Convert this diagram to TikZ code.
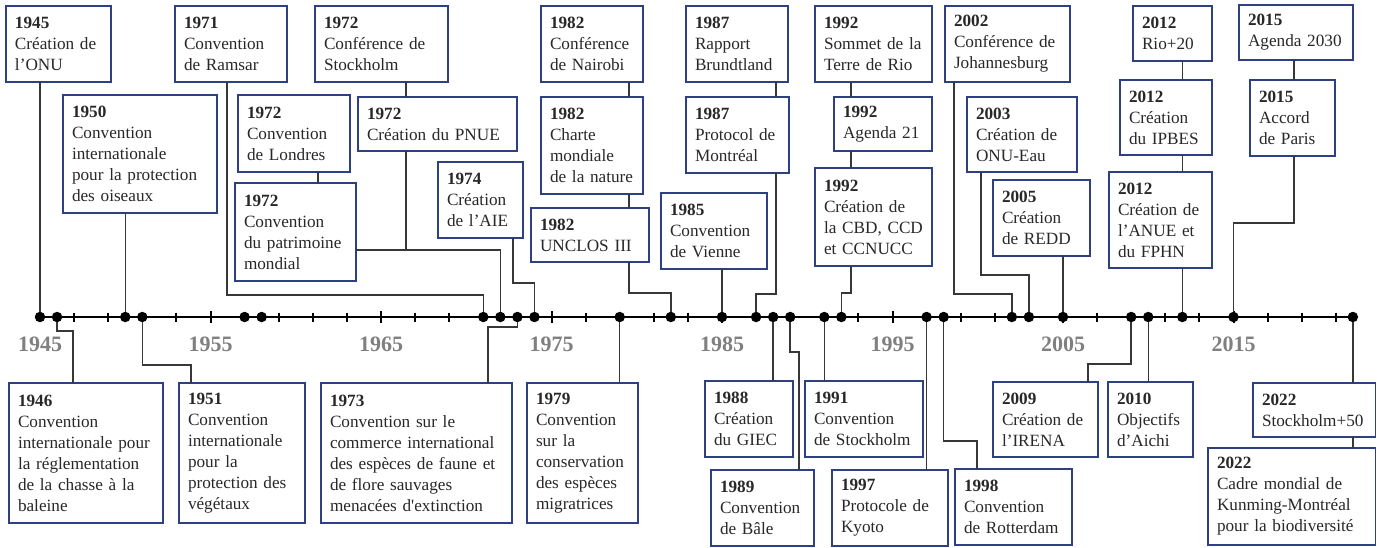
\documentclass[tikz,border=0pt]{standalone}
\usepackage{fontspec}
\setmainfont{Liberation Serif}
\definecolor{boxblue}{RGB}{46,64,130}
\definecolor{conngray}{RGB}{55,55,55}
\definecolor{lblgray}{RGB}{128,128,128}
\definecolor{txtgray}{RGB}{40,40,40}
\tikzset{
  evbox/.style={draw=boxblue, line width=1.3pt, fill=white, inner xsep=9pt, inner ysep=0pt,
    outer sep=0pt, align=left, font=\fontsize{17.2}{21}\selectfont, text=txtgray},
  conn/.style={draw=conngray, line width=1.5pt},
  tdot/.style={circle, fill=black, inner sep=0pt, minimum size=10.5pt, outer sep=0pt},
  axisline/.style={line width=2.8pt, black},
  smalltick/.style={line width=2pt, black},
  yearlbl/.style={text=lblgray, font=\fontsize{22}{26}\selectfont\bfseries, inner sep=0pt},
}
\newcommand\evbox[6]{%
  \pgfmathsetmacro\bw{#4-#2}\pgfmathsetmacro\bh{#5-#3}\pgfmathsetmacro\tw{#4-#2-18}%
  \node[evbox, anchor=north west, minimum width=\bw pt, minimum height=\bh pt, text width=\tw pt] (#1) at (#2,#3) {#6};}
\begin{document}
\begin{tikzpicture}[x=1pt,y=-1pt]
\useasboundingbox (0,0) rectangle (1377,547);
% axis
\coordinate (axL) at (37,317);
\coordinate (axR) at (1356,317);
\draw[axisline] (axL) -- (axR);
\foreach \y in {1947,1949,...,2021} \draw[smalltick] ({40+17.05*(\y-1945)},312.5) -- ++(0,9);
\foreach \y in {1955,1965,...,2015} \draw[smalltick] ({40+17.05*(\y-1945)},311) -- ++(0,12);
\foreach \y in {1945,1955,...,2015} \node[yearlbl] (yl\y) at ({40+17.05*(\y-1945)},344) {\y};
% dots
\foreach \y in {1945,1946,1950,1951,1957,1958,1971,1972,1973,1974,1979,1982,1985,1987,1988,1989,1991,1992,1997,1998,2002,2003,2005,2009,2010,2012,2015,2022}
  \node[tdot] (d\y) at ({40+17.05*(\y-1945)},317) {};
% top boxes
\evbox{b1945}{6}{6}{111}{82}{\textbf{1945}\\Création de\\l’ONU}
\evbox{b1950}{63}{95}{217}{213}{\textbf{1950}\\Convention\\internationale\\pour la protection\\des oiseaux}
\evbox{b1971}{175}{6}{287}{82}{\textbf{1971}\\Convention\\de Ramsar}
\evbox{b1972L}{238}{95}{350}{172}{\textbf{1972}\\Convention\\de Londres}
\evbox{b1972P}{235}{183}{356}{281}{\textbf{1972}\\Convention\\du patrimoine\\mondial}
\evbox{b1972S}{315}{6}{448}{82}{\textbf{1972}\\Conférence de\\Stockholm}
\evbox{b1972U}{358}{97}{517}{151}{\textbf{1972}\\Création du PNUE}
\evbox{b1974}{438}{162}{523}{238}{\textbf{1974}\\Création\\de l’AIE}
\evbox{b1982N}{541}{6}{643}{82}{\textbf{1982}\\Conférence\\de Nairobi}
\evbox{b1982C}{541}{97}{643}{194}{\textbf{1982}\\Charte\\mondiale\\de la nature}
\evbox{b1982U}{531}{208}{649}{262}{\textbf{1982}\\UNCLOS III}
\evbox{b1985}{661}{193}{767}{269}{\textbf{1985}\\Convention\\de Vienne}
\evbox{b1987B}{686}{6}{788}{82}{\textbf{1987}\\Rapport\\Brundtland}
\evbox{b1987M}{686}{97}{789}{173}{\textbf{1987}\\Protocol de\\Montréal}
\evbox{b1992R}{815}{6}{932}{82}{\textbf{1992}\\Sommet de la\\Terre de Rio}
\evbox{b1992A}{834}{97}{932}{151}{\textbf{1992}\\Agenda 21}
\evbox{b1992C}{815}{168}{932}{266}{\textbf{1992}\\Création de\\la CBD, CCD\\et CCNUCC}
\evbox{b2002}{945}{6}{1070}{82}{\textbf{2002}\\Conférence de\\Johannesburg}
\evbox{b2003}{967}{97}{1077}{172}{\textbf{2003}\\Création de\\ONU-Eau}
\evbox{b2005}{993}{180}{1090}{256}{\textbf{2005}\\Création\\de REDD}
\evbox{b2012R}{1133}{6}{1212}{61}{\textbf{2012}\\Rio+20}
\evbox{b2012I}{1120}{80}{1212}{155}{\textbf{2012}\\Création\\du IPBES}
\evbox{b2012A}{1109}{172}{1212}{268}{\textbf{2012}\\Création de\\l’ANUE et\\du FPHN}
\evbox{b2015A}{1239}{5}{1353}{60}{\textbf{2015}\\Agenda 2030}
\evbox{b2015P}{1250}{80}{1335}{156}{\textbf{2015}\\Accord\\de Paris}
% bottom boxes
\evbox{b1946}{9}{383}{163}{523}{\textbf{1946}\\Convention\\internationale pour\\la réglementation\\de la chasse à la\\baleine}
\evbox{b1951}{179}{383}{305}{523}{\textbf{1951}\\Convention\\internationale\\pour la\\protection des\\végétaux}
\evbox{b1973}{321}{383}{512}{523}{\textbf{1973}\\Convention sur le\\commerce international\\des espèces de faune et\\de flore sauvages\\menacées d\textquotesingle extinction}
\evbox{b1979}{527}{383}{638}{523}{\textbf{1979}\\Convention\\sur la\\conservation\\des espèces\\migratrices}
\evbox{b1988}{705}{381}{793}{457}{\textbf{1988}\\Création\\du GIEC}
\evbox{b1989}{711}{470}{814}{546}{\textbf{1989}\\Convention\\de Bâle}
\evbox{b1991}{805}{381}{923}{457}{\textbf{1991}\\Convention\\de Stockholm}
\evbox{b1997}{832}{470}{948}{546}{\textbf{1997}\\Protocole de\\Kyoto}
\evbox{b1998}{955}{469}{1072}{545}{\textbf{1998}\\Convention\\de Rotterdam}
\evbox{b2009}{993}{382}{1098}{457}{\textbf{2009}\\Création de\\l’IRENA}
\evbox{b2010}{1108}{382}{1193}{457}{\textbf{2010}\\Objectifs\\d’Aichi}
\evbox{b2022S}{1253}{383}{1375.5}{437}{\textbf{2022}\\Stockholm+50}
\evbox{b2022K}{1208}{448}{1375.5}{545}{\textbf{2022}\\Cadre mondial de\\Kunming-Montréal\\pour la biodiversité}
% top connectors
\coordinate (j1972) at (406,250);
\draw[conn] (b1945.south -| d1945) -- (d1945);
\draw[conn] (b1950.south -| d1950) -- (d1950);
\draw[conn] (b1971.south -| 227,0) |- (d1971 |- 0,295) -- (d1971);
\draw[conn] (b1972L.south -| 318,0) -- (b1972P.north -| 318,0);
\draw[conn] (b1972S.south -| 406,0) -- (b1972U.north -| 406,0);
\draw[conn] (b1972U.south -| j1972) -- (j1972);
\draw[conn] (b1972P.east |- j1972) -| (d1972);
\draw[conn] (b1974.south -| 513,0) |- (d1974 |- 0,283) -- (d1974);
\draw[conn] (b1982N.south -| 629,0) -- (b1982C.north -| 629,0);
\draw[conn] (b1982C.south -| 629,0) -- (b1982U.north -| 629,0);
\draw[conn] (b1982U.south -| 629,0) |- (d1982 |- 0,293) -- (d1982);
\draw[conn] (b1985.south -| d1985) -- (d1985);
\draw[conn] (b1987B.south -| 776,0) -- (b1987M.north -| 776,0);
\draw[conn] (b1987M.south -| 776,0) |- (d1987 |- 0,294) -- (d1987);
\draw[conn] (b1992R.south -| 851,0) -- (b1992A.north -| 851,0);
\draw[conn] (b1992A.south -| 851,0) -- (b1992C.north -| 851,0);
\draw[conn] (b1992C.south -| 851,0) |- (d1992 |- 0,293) -- (d1992);
\draw[conn] (b2002.south -| 954,0) |- (d2002 |- 0,294) -- (d2002);
\draw[conn] (b2003.south -| 981,0) |- (d2003 |- 0,275) -- (d2003);
\draw[conn] (b2005.south -| d2005) -- (d2005);
\draw[conn] (b2012R.south -| d2012) -- (b2012I.north -| d2012);
\draw[conn] (b2012I.south -| d2012) -- (b2012A.north -| d2012);
\draw[conn] (b2012A.south -| d2012) -- (d2012);
\draw[conn] (b2015A.south -| 1294,0) -- (b2015P.north -| 1294,0);
\draw[conn] (b2015P.south -| 1294,0) |- (d2015 |- 0,223) -- (d2015);
% bottom connectors
\draw[conn] (d1946) -- (d1946 |- 0,331) -| (b1946.north -| 73,0);
\draw[conn] (d1951) -- (d1951 |- 0,365) -| (b1951.north -| 191,0);
\draw[conn] (d1973) -- (d1973 |- 0,327) -| (b1973.north -| 488,0);
\draw[conn] (d1979) -- (b1979.north -| d1979);
\draw[conn] (d1988) -- (b1988.north -| d1988);
\draw[conn] (d1989) -- (d1989 |- 0,352) -| (b1989.north -| 799,0);
\draw[conn] (d1991) -- (b1991.north -| d1991);
\draw[conn] (d1997) -- (b1997.north -| d1997);
\draw[conn] (d1998) -- (d1998 |- 0,441) -| (b1998.north -| 977,0);
\draw[conn] (d2009) -- (d2009 |- 0,364) -| (b2009.north -| 1088,0);
\draw[conn] (d2010) -- (b2010.north -| d2010);
\draw[conn] (d2022) -- (b2022S.north -| d2022);
\draw[conn] (b2022S.south -| d2022) -- (b2022K.north -| d2022);
\end{tikzpicture}
\end{document}
